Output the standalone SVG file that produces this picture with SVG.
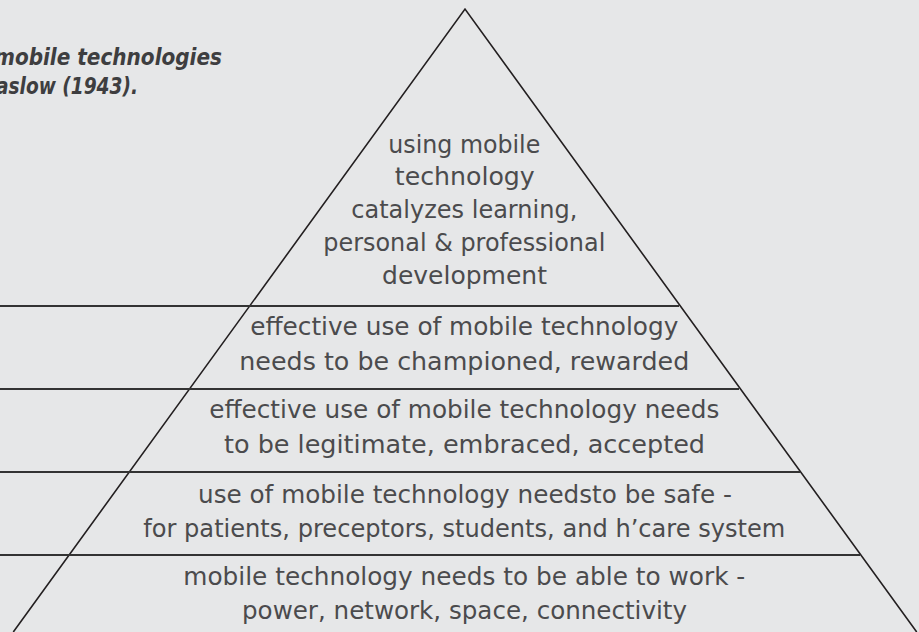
<svg xmlns="http://www.w3.org/2000/svg" width="919" height="632" viewBox="0 0 919 632">
  <style>
    .edge { stroke: #231f20; stroke-width: 1.6; fill: none; }
    .tier { stroke: #333333; stroke-width: 2; fill: none; }
    .label { font-family: "DejaVu Sans", "Liberation Sans", sans-serif; font-size: 24.5px; fill: #4b4b4d; text-anchor: middle; }
    .title { font-family: "DejaVu Sans Condensed", "DejaVu Sans", "Liberation Sans", sans-serif; font-size: 23px; font-weight: bold; font-style: italic; fill: #3e3e40; }
  </style>
  <rect x="0" y="0" width="919" height="632" fill="#e6e7e8"/>

  <g id="title">
    <text class="title" x="-6" y="65" textLength="228" lengthAdjust="spacingAndGlyphs">mobile technologies</text>
    <text class="title" x="-4" y="94" textLength="142" lengthAdjust="spacingAndGlyphs">aslow (1943).</text>
  </g>

  <g id="pyramid-lines">
    <polyline class="edge" points="13.3,632 465,9 916.7,632"/>
    <line class="tier" x1="0" y1="306" x2="679" y2="306"/>
    <line class="tier" x1="0" y1="389" x2="739" y2="389"/>
    <line class="tier" x1="0" y1="472" x2="800" y2="472"/>
    <line class="tier" x1="0" y1="555" x2="860" y2="555"/>
  </g>

  <g id="tier-5-top">
    <text class="label" x="464.3" y="153" textLength="152" lengthAdjust="spacingAndGlyphs">using mobile</text>
    <text class="label" x="464.8" y="185" textLength="140" lengthAdjust="spacingAndGlyphs">technology</text>
    <text class="label" x="464.3" y="218" textLength="226" lengthAdjust="spacingAndGlyphs">catalyzes learning,</text>
    <text class="label" x="464.3" y="251" textLength="282" lengthAdjust="spacingAndGlyphs">personal &amp; professional</text>
    <text class="label" x="464.5" y="284" textLength="165" lengthAdjust="spacingAndGlyphs">development</text>
  </g>

  <g id="tier-4">
    <text class="label" x="464.3" y="335" textLength="428" lengthAdjust="spacingAndGlyphs">effective use of mobile technology</text>
    <text class="label" x="464.3" y="370" textLength="450" lengthAdjust="spacingAndGlyphs">needs to be championed, rewarded</text>
  </g>

  <g id="tier-3">
    <text class="label" x="464.3" y="418" textLength="510" lengthAdjust="spacingAndGlyphs">effective use of mobile technology needs</text>
    <text class="label" x="464.5" y="453" textLength="481" lengthAdjust="spacingAndGlyphs">to be legitimate, embraced, accepted</text>
  </g>

  <g id="tier-2">
    <text class="label" x="465" y="503" textLength="534" lengthAdjust="spacingAndGlyphs">use of mobile technology needsto be safe -</text>
    <text class="label" x="464.3" y="537" textLength="642" lengthAdjust="spacingAndGlyphs">for patients, preceptors, students, and h’care system</text>
  </g>

  <g id="tier-1-base">
    <text class="label" x="464.3" y="585" textLength="562" lengthAdjust="spacingAndGlyphs">mobile technology needs to be able to work -</text>
    <text class="label" x="464.5" y="619" textLength="445" lengthAdjust="spacingAndGlyphs">power, network, space, connectivity</text>
  </g>
</svg>
